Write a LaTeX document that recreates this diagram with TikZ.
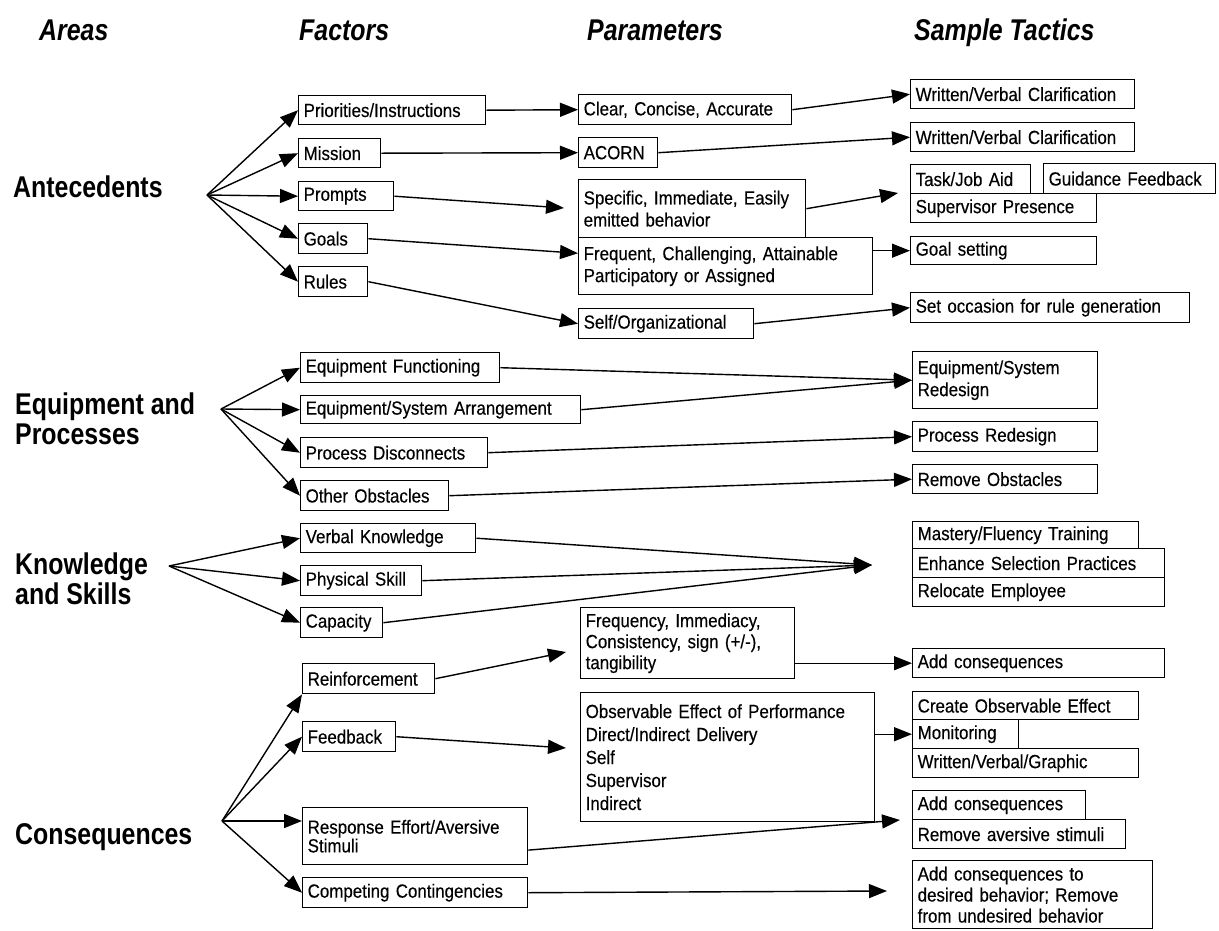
\documentclass[tikz,border=0pt]{standalone}
\usepackage{fontspec}
\newfontfamily\boxfont[FakeStretch=0.89, FakeBold=0.3]{Liberation Sans}
\newfontfamily\areafont[FakeStretch=0.83]{Liberation Sans}
\usetikzlibrary{arrows.meta}

\begin{document}
\begin{tikzpicture}[x=1pt, y=-1pt,
  fbox/.style={draw, line width=1.4pt, anchor=north west, inner xsep=5pt, inner ysep=1pt, align=left, font=\boxfont\fontsize{19}{22}\selectfont},
  area/.style={inner sep=0pt, align=left, font=\areafont\bfseries\fontsize{30}{30}\selectfont},
  head/.style={anchor=base west, inner sep=0pt, font=\areafont\bfseries\itshape\fontsize{30}{30}\selectfont},
  arr/.style={-{Triangle[length=18pt, width=14pt]}, line width=1.4pt}]
\useasboundingbox (0, 0) rectangle (1219, 930);

\node[head] (hAreas) at (39, 40) {Areas};
\node[head] (hFactors) at (299, 40) {Factors};
\node[head] (hParams) at (587, 40) {Parameters};
\node[head] (hTactics) at (914, 40) {Sample Tactics};

\node[area, anchor=base west] (ante) at (13, 197) {Antecedents};
\node[area, anchor=north west] (equip) at (15, 393) {Equipment and\\Processes};
\node[area, anchor=north west] (know) at (15, 553) {Knowledge\\and Skills};
\node[area, anchor=base west] (cons) at (15, 844) {Consequences};

\node[fbox, text width=177pt, minimum height=29pt] (prio) at (298, 95) {Priorities/Instructions};
\node[fbox, text width=72pt, minimum height=29pt] (miss) at (298, 138) {Mission};
\node[fbox, text width=85pt, minimum height=29pt] (prom) at (298, 181) {Prompts};
\node[fbox, text width=59pt, minimum height=30pt] (goal) at (298, 223) {Goals};
\node[fbox, text width=59pt, minimum height=30pt] (rule) at (298, 266) {Rules};

\node[fbox, text width=203pt, minimum height=30pt] (clear) at (578, 94) {Clear, Concise, Accurate};
\node[fbox, text width=69pt, minimum height=30pt] (acorn) at (578, 137) {ACORN};
\node[fbox, text width=217pt, minimum height=58pt] (spec) at (578, 179) {Specific, Immediate, Easily\\emitted behavior};
\node[fbox, text width=284pt, minimum height=57pt] (freq) at (578, 237) {Frequent, Challenging, Attainable\\Participatory or Assigned};
\node[fbox, text width=165pt, minimum height=30pt] (self) at (578, 308) {Self/Organizational};

\node[fbox, text width=214pt, minimum height=29pt] (wvc1) at (910, 79) {Written/Verbal Clarification};
\node[fbox, text width=214pt, minimum height=29pt] (wvc2) at (910, 122) {Written/Verbal Clarification};
\node[fbox, text width=110pt, minimum height=29pt] (task) at (910, 164) {Task/Job Aid};
\node[fbox, text width=162pt, minimum height=30pt] (guid) at (1043, 163) {Guidance Feedback};
\node[fbox, text width=176pt, minimum height=29pt] (supv) at (910, 193) {Supervisor Presence};
\node[fbox, text width=176pt, minimum height=28pt] (gset) at (910, 236) {Goal setting};
\node[fbox, text width=269pt, minimum height=30pt] (occ) at (910, 292) {Set occasion for rule generation};

\node[fbox, text width=189pt, minimum height=30pt] (eqf) at (300, 352) {Equipment Functioning};
\node[fbox, text width=270pt, minimum height=28pt] (eqsa) at (300, 395) {Equipment/System Arrangement};
\node[fbox, text width=177pt, minimum height=30pt] (pdis) at (300, 437) {Process Disconnects};
\node[fbox, text width=138pt, minimum height=30pt] (oobs) at (300, 480) {Other Obstacles};
\node[fbox, text width=175pt, minimum height=57pt] (esr) at (912, 351) {Equipment/System\\Redesign};
\node[fbox, text width=175pt, minimum height=30pt] (prd) at (912, 421) {Process Redesign};
\node[fbox, text width=175pt, minimum height=29pt] (remo) at (912, 464) {Remove Obstacles};

\node[fbox, text width=165pt, minimum height=29pt] (vk) at (300, 523) {Verbal Knowledge};
\node[fbox, text width=111pt, minimum height=30pt] (ps) at (300, 565) {Physical Skill};
\node[fbox, text width=72pt, minimum height=30pt] (cap) at (300, 607) {Capacity};
\node[fbox, text width=216pt, minimum height=27pt] (mft) at (912, 521) {Mastery/Fluency Training};
\node[fbox, text width=242pt, minimum height=29pt] (esp) at (912, 548) {Enhance Selection Practices};
\node[fbox, text width=242pt, minimum height=29pt] (rel) at (912, 577) {Relocate Employee};

\node[fbox, text width=122pt, minimum height=30pt] (reinf) at (302, 663) {Reinforcement};
\node[fbox, text width=83pt, minimum height=30pt] (fdbk) at (302, 721) {Feedback};
\node[fbox, text width=215pt, minimum height=57pt, font=\boxfont\fontsize{19}{17}\selectfont] (resp) at (302, 807) {Response Effort/Aversive\\Stimuli};
\node[fbox, text width=215pt, minimum height=30pt] (comp) at (302, 877) {Competing Contingencies};
\node[fbox, text width=204pt, minimum height=71pt, font=\boxfont\fontsize{19}{21}\selectfont] (fiq) at (580, 607) {Frequency, Immediacy,\\Consistency, sign (+/-),\\tangibility};
\node[fbox, text width=284pt, minimum height=129pt, font=\boxfont\fontsize{19}{23}\selectfont] (obs) at (580, 692) {Observable Effect of Performance\\Direct/Indirect Delivery\\Self\\Supervisor\\Indirect};
\node[fbox, text width=242pt, minimum height=29pt] (addc1) at (912, 648) {Add consequences};
\node[fbox, text width=216pt, minimum height=28pt] (coe) at (912, 691) {Create Observable Effect};
\node[fbox, text width=96pt, minimum height=29pt] (mon) at (912, 719) {Monitoring};
\node[fbox, text width=216pt, minimum height=29pt] (wvg) at (912, 748) {Written/Verbal/Graphic};
\node[fbox, text width=163pt, minimum height=29pt] (addc2) at (912, 790) {Add consequences};
\node[fbox, text width=203pt, minimum height=29pt] (rav) at (912, 819) {Remove aversive stimuli};
\node[fbox, text width=230pt, minimum height=68pt, font=\boxfont\fontsize{19}{21}\selectfont] (acd) at (912, 860) {Add consequences to\\desired behavior; Remove\\from undesired behavior};

\coordinate (antO) at (207, 195);
\coordinate (eqO) at (221, 409);
\coordinate (knO) at (169, 566);
\coordinate (conO) at (222, 821);
\coordinate (promT) at (564, 208);
\coordinate (specT) at (898, 193);
\coordinate (knT) at (872, 565);
\coordinate (reinfT) at (566, 652);
\coordinate (fdbkT) at (566, 748);
\coordinate (respT) at (900, 820);
\coordinate (compT) at (887, 891);

\draw[arr] (antO) -- (prio.west);
\draw[arr] (antO) -- (miss.west);
\draw[arr] (antO) -- (prom.west);
\draw[arr] (antO) -- (goal.west);
\draw[arr] (antO) -- (rule.west);
\draw[arr] (prio.east) -- (clear.west);
\draw[arr] (miss.east) -- (acorn.west);
\draw[arr] (prom.east) -- (promT);
\draw[arr] (goal.east) -- (freq.175);
\draw[arr] (rule.east) -- (self.west);
\draw[arr] (clear.east) -- (wvc1.west);
\draw[arr] (acorn.east) -- (wvc2.west);
\draw[arr] (spec.east) -- (specT);
\draw[arr] (freq.east |- gset.west) -- (gset.west);
\draw[arr] (self.east) -- (occ.west);

\draw[arr] (eqO) -- (eqf.west);
\draw[arr] (eqO) -- (eqsa.west);
\draw[arr] (eqO) -- (pdis.west);
\draw[arr] (eqO) -- (oobs.west);
\draw[arr] (eqf.east) -- (esr.west);
\draw[arr] (eqsa.east) -- (esr.west);
\draw[arr] (pdis.east) -- (prd.west);
\draw[arr] (oobs.east) -- (remo.west);

\draw[arr] (knO) -- (vk.west);
\draw[arr] (knO) -- (ps.west);
\draw[arr] (knO) -- (cap.west);
\draw[arr] (vk.east) -- (knT);
\draw[arr] (ps.east) -- (knT);
\draw[arr] (cap.east) -- (knT);

\draw[arr] (conO) -- (reinf.south west);
\draw[arr] (conO) -- (fdbk.west);
\draw[arr] (conO) -- (conO -| resp.west);
\draw[arr] (conO) -- (comp.west);
\draw[arr] (reinf.east) -- (reinfT);
\draw[arr] (fdbk.east) -- (fdbkT);
\draw[arr] (fiq.east |- addc1.west) -- (addc1.west);
\draw[arr] (obs.east |- mon.west) -- (mon.west);
\draw[arr] (resp.-7) -- (respT);
\draw[arr] (comp.east) -- (compT);
\end{tikzpicture}
\end{document}
